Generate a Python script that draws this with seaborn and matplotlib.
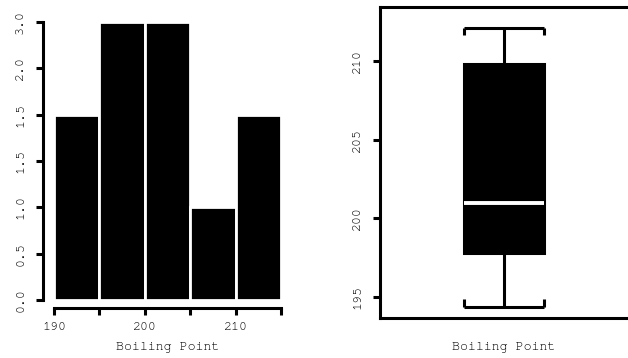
import numpy as np
import matplotlib
matplotlib.use("Agg")
import matplotlib.pyplot as plt
import seaborn as sns

# histogram: bin edges and counts
bin_edges = [190, 195, 200, 205, 210, 215]
bin_counts = [2, 3, 3, 1, 2]
hist_yticks = [0, 0.5, 1.0, 1.5, 2.0, 2.5, 3.0]
hist_yticklabels = ["0.0", "0.5", "1.0", "1.5", "1.5", "2.0", "3.0"]
hist_xticks = [190, 195, 200, 205, 210, 215]
hist_xticklabels = ["190", "", "200", "", "210", ""]

# boxplot: boiling points estimated from the right panel
boiling_points = [194.4, 195.6, 197.2, 198.4, 199.5, 201.0,
                  203.8, 209.0, 210.6, 211.5, 212.1]
box_yticks = [195, 200, 205, 210]

sns.set_theme(style="ticks")
plt.rcParams["font.family"] = ["FreeMono", "Courier Prime", "Liberation Mono"]
plt.rcParams.update({
    "font.size": 9.5,
    "text.color": "black",
    "axes.labelcolor": "black",
    "axes.linewidth": 2.2,
    "xtick.major.width": 2.2,
    "ytick.major.width": 2.2,
    "xtick.major.size": 5,
    "ytick.major.size": 5,
    "xtick.color": "black",
    "ytick.color": "black",
    "axes.edgecolor": "black",
})

fig = plt.figure(figsize=(6.28, 3.58), dpi=100)
W, H = 628, 358
fs = 9.5

# ---- left: histogram ----
ax1 = fig.add_axes([54 / W, (H - 300) / H, (281 - 54) / W, (300 - 22) / H])
centers = [(a + b) / 2 for a, b in zip(bin_edges[:-1], bin_edges[1:])]
sns.histplot(x=centers, weights=bin_counts, bins=bin_edges, ax=ax1,
             color="black", edgecolor="white", linewidth=2, alpha=1)
sns.despine(ax=ax1)
ax1.spines["left"].set_position(("outward", 8))
ax1.spines["bottom"].set_position(("outward", 6))
ax1.set_xlim(bin_edges[0], bin_edges[-1])
ax1.set_ylim(0, 3)
ax1.set_yticks(hist_yticks)
ax1.set_yticklabels(hist_yticklabels, rotation=90, va="center")
ax1.set_xticks(hist_xticks)
ax1.set_xticklabels(hist_xticklabels)
ax1.set_ylabel("")
ax1.set_xlabel("Boiling Point", fontsize=fs, labelpad=6)
ax1.tick_params(axis="x", labelsize=fs, pad=5)
ax1.tick_params(axis="y", labelsize=fs, pad=7)

# ---- right: boxplot ----
ax2 = fig.add_axes([380 / W, (H - 318) / H, (W - 380) / W, (318 - 7) / H])
box_w = 0.32
sns.boxplot(y=boiling_points, ax=ax2, width=box_w, color="black",
            linecolor="black", linewidth=2.2,
            boxprops=dict(facecolor="black", edgecolor="black"),
            medianprops=dict(color="white", linewidth=2.8),
            capprops=dict(linewidth=0))
lo, hi = np.min(boiling_points), np.max(boiling_points)
half = box_w / 2
hook = 0.45
for y, d in [(hi, -hook), (lo, hook)]:
    ax2.hlines(y, -half, half, color="black", linewidth=2.2)
    ax2.vlines([-half, half], y, y + d, color="black", linewidth=2.2)
ax2.set_xlim(-0.5, 0.5)
ax2.set_ylim(193.67, 213.43)
ax2.set_yticks(box_yticks)
ax2.set_yticklabels([str(t) for t in box_yticks], rotation=90, va="center")
ax2.set_xticks([])
ax2.set_xlabel("Boiling Point", fontsize=fs, labelpad=17)
ax2.set_ylabel("")
ax2.spines["right"].set_visible(False)
ax2.tick_params(axis="y", labelsize=fs, pad=7)

fig.savefig("out.png", dpi=100)
